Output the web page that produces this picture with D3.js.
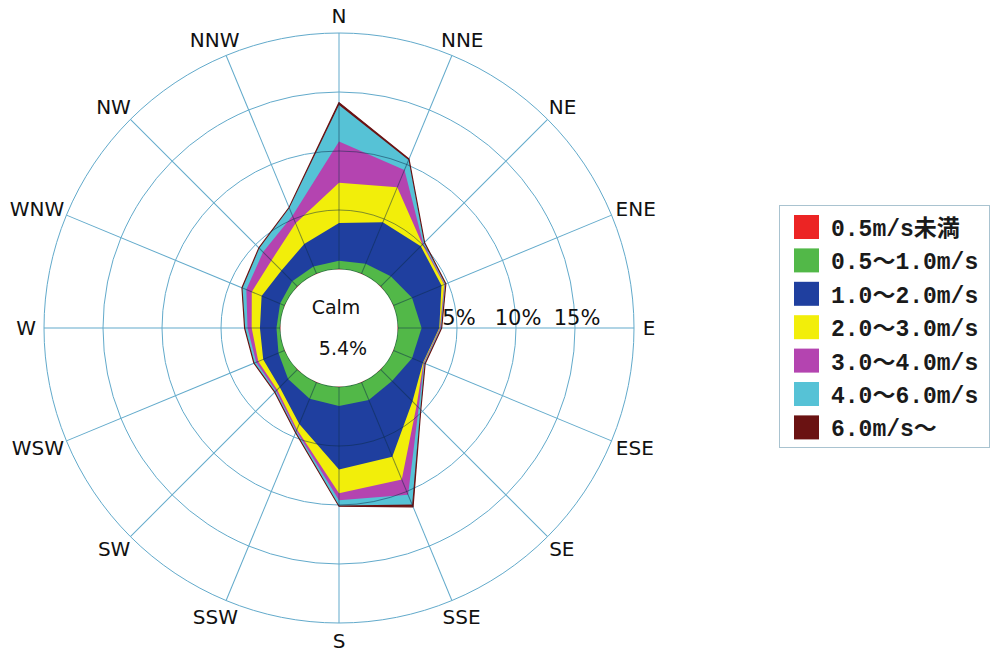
<!DOCTYPE html>
<html>
<head>
<meta charset="utf-8">
<script src="https://cdn.jsdelivr.net/npm/d3@7"></script>
<style>
  html, body { margin: 0; padding: 0; background: #ffffff; }
  svg { display: block; }
</style>
</head>
<body>
<svg id="chart" width="992" height="652"></svg>
<script>
// 16 compass directions, clockwise from north
const directions = ["N","NNE","NE","ENE","E","ESE","SE","SSE","S","SSW","SW","WSW","W","WNW","NW","NNW"];

// Frequency (%) of each wind-speed class per direction
const speedLt05   = [0,   0,   0,   0,    0,    0,    0,    0,   0,    0,    0,    0,    0,    0,    0,    0];
const speed05to10 = [0.7, 0.9, 1.2, 1.7,  2.0,  1.7,  1.35, 1.6, 1.6,  1.5,  1.1,  0.55, 0.3,  0.4,  0.6,  0.65];
const speed10to20 = [3.2, 3.8, 3.6, 2.7,  1.5,  1.0,  2.45, 5.2, 5.4,  2.3,  1.0,  1.4,  1.4,  1.7,  1.3,  2.05];
const speed20to30 = [3.4, 3.2, 0.2, 0.25, 0.05, 0.05, 0.5,  2.1, 2.0,  0.5,  0.3,  0.45, 0.7,  0.9,  1.2,  1.9];
const speed30to40 = [3.5, 1.6, 0.1, 0.05, 0.05, 0.05, 0.25, 1.4, 0.6,  0.15, 0.15, 0.2,  0.35, 0.5,  1.0,  0.7];
const speed40to60 = [3.1, 0.9, 0.1, 0.05, 0.05, 0.05, 0.2,  0.9, 0.45, 0.1,  0.1,  0.15, 0.2,  0.35, 0.45, 0.7];
const speedGe60   = [0.2, 0.1, 0.05,0.05, 0.05, 0.05, 0.05, 0.2, 0.05, 0.05, 0.05, 0.05, 0.05, 0.05, 0.05, 0.05];

const calmText = "5.4%";
const ringTicks = [0, 5, 10, 15, 20];
const ringLabels = ["5%", "10%", "15%"];

const classLabels = ["0.5m/s未満","0.5～1.0m/s","1.0～2.0m/s","2.0～3.0m/s","3.0～4.0m/s","4.0～6.0m/s","6.0m/s～"];
const classColors = ["#ec2424","#52b848","#1f3f9f","#f2ee0a","#b444b0","#56c2d6","#6a1212"];
const classSeries = [speedLt05, speed05to10, speed10to20, speed20to30, speed30to40, speed40to60, speedGe60];

const svg = d3.select("#chart");
const cx = 339, cy = 328;
const rScale = d3.scaleLinear().domain([0, 20]).range([59, 295]);
const angle = d3.scaleBand().domain(directions).range([0, 2 * Math.PI]).align(0);
const ang = d => angle(d);
const deg = d => ang(d) * 180 / Math.PI;

// cumulative totals per class, outermost drawn first
const cumulative = [];
classSeries.forEach((s, k) => {
  cumulative.push(s.map((v, i) => v + (k ? cumulative[k - 1][i] : 0)));
});

const radialLine = d3.lineRadial()
  .angle((d, i) => ang(directions[i]))
  .radius(d => rScale(d))
  .curve(d3.curveLinearClosed);

const outerPath = radialLine(cumulative[cumulative.length - 1]);
svg.append("defs").append("clipPath").attr("id", "roseClip")
  .append("path").attr("transform", `translate(${cx},${cy})`).attr("d", outerPath);

const g = svg.append("g").attr("transform", `translate(${cx},${cy})`);

function drawGrid(parent, color, opacity) {
  parent.selectAll("circle.ring").data(ringTicks).join("circle")
    .attr("class", "ring")
    .attr("r", d => rScale(d))
    .attr("fill", "none")
    .attr("stroke", color)
    .attr("stroke-opacity", opacity)
    .attr("stroke-width", 1);
  // spokes as thin filled bars rotated to each direction
  parent.selectAll("rect.spoke").data(directions).join("rect")
    .attr("class", "spoke")
    .attr("transform", d => `rotate(${deg(d)})`)
    .attr("x", -0.5)
    .attr("y", -rScale(20))
    .attr("width", 1)
    .attr("height", rScale(20) - rScale(0))
    .attr("fill", color)
    .attr("fill-opacity", opacity);
}

// light grid underneath
drawGrid(g.append("g"), "#62aacb", 1);

// stacked speed classes
const shapes = g.append("g");
for (let k = classSeries.length - 1; k >= 0; k--) {
  shapes.append("path")
    .attr("d", radialLine(cumulative[k]))
    .attr("fill", classColors[k])
    .attr("stroke", k === classSeries.length - 1 ? classColors[k] : "none")
    .attr("stroke-width", 1.2)
    .attr("stroke-linejoin", "round");
}

// grid seen through the filled areas
const overlay = svg.append("g").attr("clip-path", "url(#roseClip)")
  .append("g").attr("transform", `translate(${cx},${cy})`);
drawGrid(overlay, "#0c2c48", 0.5);

// calm area in the middle
const center = svg.append("g").attr("transform", `translate(${cx},${cy})`);
center.append("circle").attr("r", rScale(0) - 0.5).attr("fill", "#ffffff");

// ring percentage labels along the east axis
center.selectAll("text.pct").data(ringLabels).join("text")
  .attr("class", "pct")
  .attr("x", (d, i) => rScale(ringTicks[i + 1]) + 2)
  .attr("y", -3)
  .attr("text-anchor", "middle")
  .attr("font-family", "DejaVu Sans, sans-serif")
  .attr("font-size", 21)
  .attr("fill", "#111")
  .text(d => d);

// calm label
center.append("text").attr("x", -3).attr("y", -14)
  .attr("text-anchor", "middle").attr("font-family", "DejaVu Sans, sans-serif")
  .attr("font-size", 19).attr("fill", "#111").text("Calm");
center.append("text").attr("x", 4).attr("y", 27)
  .attr("text-anchor", "middle").attr("font-family", "DejaVu Sans, sans-serif")
  .attr("font-size", 19).attr("fill", "#111").text(calmText);

// compass labels around the outer ring
const dirLabels = center.selectAll("text.dir").data(directions).join("text")
  .attr("class", "dir")
  .attr("text-anchor", "middle")
  .attr("font-family", "DejaVu Sans, sans-serif")
  .attr("font-size", 20)
  .attr("fill", "#111")
  .text(d => d);
dirLabels.each(function(d) {
  const a = ang(d);
  const hw = this.getComputedTextLength() / 2;
  const hh = 7.5;
  const R = 305;
  const x = Math.sin(a) * (R + 0.8 * hw);
  const y = -Math.cos(a) * (R + hh);
  d3.select(this).attr("x", x).attr("y", y + 7.3);
});

// legend
const legend = svg.append("g").attr("transform", "translate(779,205)");
legend.append("rect")
  .attr("x", 0.5).attr("y", 0.5).attr("width", 210).attr("height", 242)
  .attr("fill", "#ffffff").attr("stroke", "#a9c3d0").attr("stroke-width", 1);
const rows = legend.selectAll("g.row").data(classLabels).join("g")
  .attr("class", "row")
  .attr("transform", (d, i) => `translate(0,${10 + i * 33.4})`);
rows.append("rect")
  .attr("x", 15).attr("y", 0).attr("width", 25).attr("height", 24)
  .attr("fill", (d, i) => classColors[i]);
rows.append("text")
  .attr("x", 52).attr("y", 21)
  .style("font-family", "'Liberation Mono', 'Liberation Serif', 'Noto Sans CJK JP'")
  .style("font-weight", "bold")
  .attr("font-size", 23)
  .attr("fill", "#1a1a1a")
  .text(d => d);
</script>
</body>
</html>
